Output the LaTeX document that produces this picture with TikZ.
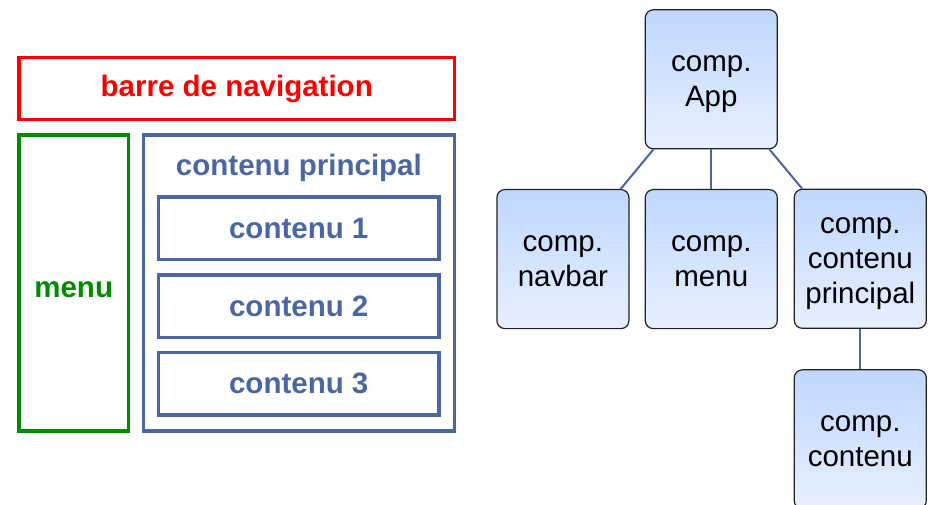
\documentclass[tikz,border=0pt]{standalone}
\usepackage{fontspec}
\setmainfont{Liberation Sans}
\definecolor{navred}{RGB}{255,0,0}
\definecolor{menugreen}{RGB}{0,140,0}
\definecolor{mainblue}{RGB}{74,102,163}
\definecolor{boxtop}{RGB}{192,215,255}
\definecolor{boxbot}{RGB}{231,240,255}
\definecolor{boxline}{RGB}{34,34,34}
\newcommand\tstrut{\rule[-7.7pt]{0pt}{34.4pt}}
\begin{document}
\begin{tikzpicture}[x=1pt,y=-1pt,
  outlinebox/.style={draw, line width=3.5pt, inner sep=0pt,
    font=\fontsize{29.5}{35}\selectfont\bfseries},
  lbl/.style={font=\fontsize{29.5}{35}\selectfont\bfseries, anchor=base, inner sep=0pt},
  tbox/.style={draw=boxline, line width=1.2pt, rounded corners=8pt,
    top color=boxtop, bottom color=boxbot,
    minimum width=132pt, minimum height=139pt, inner sep=0pt,
    align=center, font=\fontsize{29.5}{35}\selectfont},
  link/.style={draw=mainblue, line width=2pt}]
\clip (0,0) rectangle (932,505);
% layout sketch
\node[outlinebox, draw=navred, text=navred, minimum width=435.5pt, minimum height=62pt]
  (nav) at (236.75,88.5) {barre de navigation};
\node[outlinebox, draw=menugreen, minimum width=109.3pt, minimum height=296pt]
  (menubox) at (73.7,283) {};
\node[lbl, text=menugreen] (menulbl) at (73.7,298) {menu};
\node[outlinebox, draw=mainblue, minimum width=310.8pt, minimum height=296pt]
  (mainbox) at (298.9,283) {};
\node[lbl, text=mainblue] (mainlbl) at (298.9,175.5) {contenu principal};
\node[outlinebox, draw=mainblue, text=mainblue, minimum width=280.5pt, minimum height=62.5pt]
  (c1) at (298.75,228.25) {contenu 1};
\node[outlinebox, draw=mainblue, text=mainblue, minimum width=280.5pt, minimum height=62.5pt]
  (c2) at (298.75,306.25) {contenu 2};
\node[outlinebox, draw=mainblue, text=mainblue, minimum width=280.5pt, minimum height=62.5pt]
  (c3) at (298.75,383.5) {contenu 3};
% component tree
\node[tbox] (app) at (711.3,79.3) {\tstrut comp.\\\tstrut App};
\node[tbox] (tnav) at (562.9,259.1) {\tstrut comp.\\\tstrut navbar};
\node[tbox] (tmenu) at (711.3,259.1) {\tstrut comp.\\\tstrut menu};
\node[tbox] (tmain) at (860.3,258.8) {\tstrut comp.\\\tstrut contenu\\\tstrut principal};
\node[tbox] (tcont) at (860.3,439.3) {\tstrut comp.\\\tstrut contenu};
\draw[link] (app) -- (tnav);
\draw[link] (app) -- (tmenu);
\draw[link] (app) -- (tmain);
\draw[link] (tmain) -- (tcont);
\end{tikzpicture}
\end{document}
